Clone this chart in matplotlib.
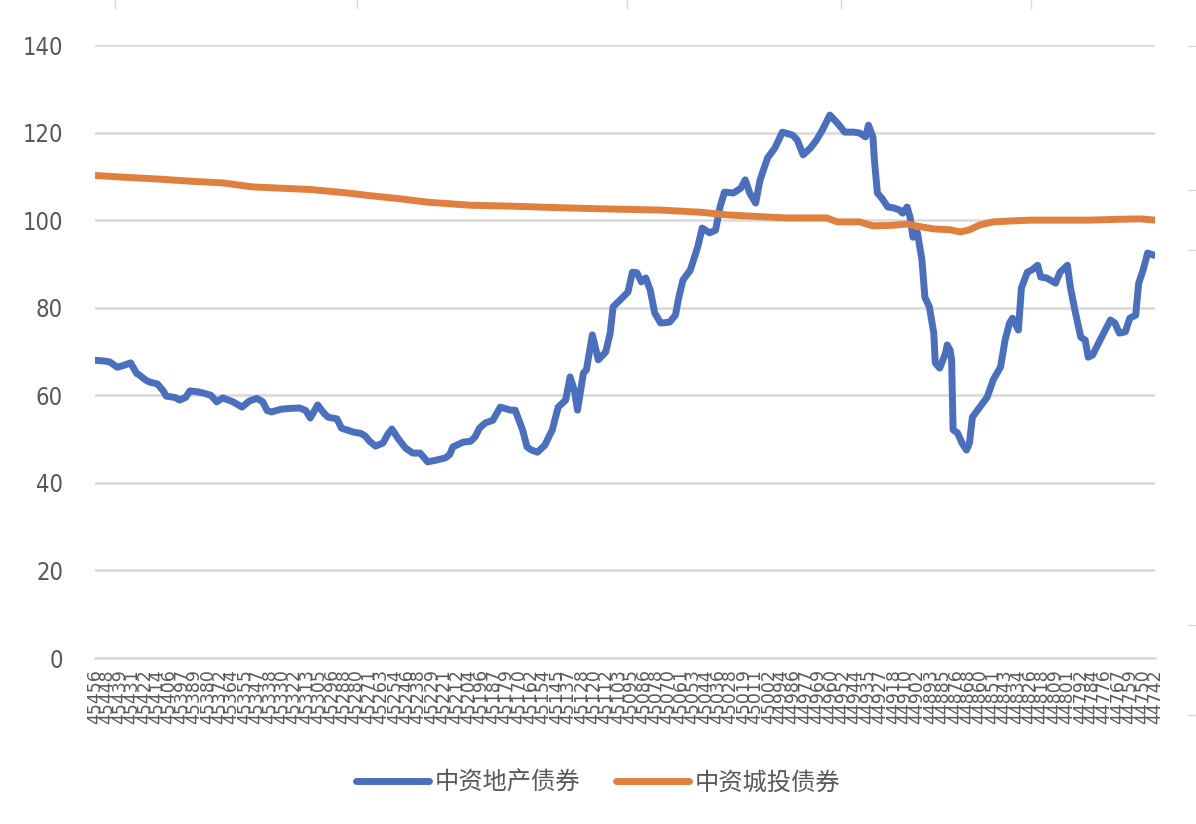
import matplotlib
matplotlib.use("Agg")
import matplotlib.pyplot as plt
from matplotlib.lines import Line2D

# ---------------- data ----------------
series_names = ["中资地产债券", "中资城投债券"]

# Excel date serials (x) and index values (y)
re_dates = [45456, 45449, 45446, 45441, 45437, 45432, 45428, 45426, 45422, 45419,
            45414, 45410, 45408, 45402, 45399, 45395, 45392, 45387, 45383, 45378,
            45374, 45370, 45363, 45357, 45352, 45347, 45343, 45340, 45337, 45331,
            45325, 45318, 45314, 45311, 45306, 45302, 45299, 45293, 45290, 45282,
            45277, 45274, 45271, 45267, 45262, 45259, 45256, 45252, 45247, 45242,
            45237, 45232, 45226, 45220, 45217, 45215, 45208, 45203, 45200, 45197,
            45193, 45188, 45183, 45180, 45176, 45173, 45168, 45165, 45162, 45158,
            45153, 45148, 45144, 45139, 45136, 45133, 45131, 45127, 45125, 45121,
            45117, 45112, 45109, 45107, 45101, 45097, 45094, 45091, 45088, 45085,
            45082, 45079, 45075, 45069, 45065, 45063, 45060, 45055, 45050, 45047,
            45042, 45038, 45035, 45032, 45026, 45021, 45018, 45015, 45011, 45008,
            45003, 44998, 44993, 44986, 44983, 44979, 44974, 44970, 44966, 44961,
            44956, 44951, 44945, 44941, 44937, 44935, 44932, 44931, 44929, 44926,
            44922, 44918, 44914, 44912, 44909, 44907, 44905, 44902, 44899, 44897,
            44894, 44891, 44890, 44887, 44883, 44882, 44880, 44879, 44878, 44875,
            44872, 44869, 44867, 44865, 44860, 44855, 44851, 44846, 44843, 44840,
            44838, 44834, 44832, 44828, 44825, 44821, 44819, 44815, 44809, 44806,
            44801, 44799, 44796, 44792, 44789, 44787, 44784, 44779, 44772, 44769,
            44766, 44762, 44759, 44755, 44753, 44750, 44747, 44743, 44742]
re_values = [68.0, 67.8, 67.6, 66.4, 66.8, 67.4, 65.0, 64.6, 63.5, 63.0,
             62.6, 61.0, 59.8, 59.5, 58.9, 59.5, 61.0, 60.8, 60.5, 60.0,
             58.5, 59.4, 58.5, 57.3, 58.7, 59.3, 58.5, 56.5, 56.2, 56.8,
             57.0, 57.1, 56.5, 54.8, 57.8, 56.0, 55.0, 54.6, 52.5, 51.6,
             51.3, 50.7, 49.5, 48.4, 49.1, 51.0, 52.3, 50.2, 48.0, 46.8,
             46.8, 44.8, 45.2, 45.7, 46.5, 48.2, 49.3, 49.5, 50.5, 52.5,
             53.7, 54.3, 57.3, 57.0, 56.6, 56.6, 52.1, 48.2, 47.5, 47.0,
             48.6, 52.1, 57.3, 58.9, 64.2, 61.0, 56.6, 65.1, 65.8, 73.8,
             68.1, 69.9, 74.2, 80.2, 82.2, 83.6, 88.1, 88.0, 85.9, 86.8,
             84.0, 78.8, 76.5, 76.7, 78.3, 82.0, 86.3, 88.6, 93.9, 98.2,
             97.1, 97.7, 103.0, 106.4, 106.2, 107.3, 109.2, 106.2, 103.9, 109.2,
             114.2, 116.5, 120.1, 119.4, 118.3, 114.9, 116.5, 118.3, 120.6, 124.0,
             122.2, 120.1, 120.1, 119.9, 119.0, 121.7, 119.0, 113.7, 106.2, 105.0,
             103.0, 102.8, 102.3, 101.6, 103.0, 100.7, 96.1, 97.1, 90.9, 82.4,
             80.2, 74.2, 67.4, 66.2, 69.7, 71.5, 70.3, 68.1, 52.1, 51.4,
             49.1, 47.5, 49.1, 55.0, 57.3, 59.6, 63.5, 66.5, 72.6, 76.5,
             77.6, 74.9, 84.5, 88.1, 88.6, 89.7, 87.0, 86.8, 85.6, 88.1,
             89.7, 84.7, 79.5, 73.3, 72.6, 68.7, 69.2, 72.6, 77.2, 76.5,
             74.2, 74.5, 77.6, 78.3, 85.6, 88.6, 92.5, 92.0, 92.0]

lgfv_dates = [45456, 45436, 45414, 45392, 45370, 45350, 45331, 45311, 45286, 45271,
              45251, 45232, 45203, 45176, 45149, 45116, 45075, 45048, 45030, 45008,
              44990, 44963, 44956, 44941, 44932, 44920, 44909, 44900, 44891, 44880,
              44873, 44867, 44860, 44851, 44840, 44826, 44806, 44786, 44766, 44752,
              44742]
lgfv_values = [110.2, 109.8, 109.4, 108.9, 108.5, 107.6, 107.3, 107.0, 106.2, 105.6,
               104.9, 104.1, 103.4, 103.2, 102.9, 102.6, 102.3, 101.8, 101.2, 100.8,
               100.5, 100.5, 99.6, 99.6, 98.7, 98.8, 99.1, 98.5, 98.0, 97.8,
               97.3, 97.8, 98.9, 99.6, 99.8, 100.0, 100.0, 100.0, 100.2, 100.3,
               100.0]

y_ticks = [0, 20, 40, 60, 80, 100, 120, 140]
n_xlabels = 86
x_tick_values = [round(45456 - i * (45456 - 44742) / (n_xlabels - 1)) for i in range(n_xlabels)]

# ---------------- style ----------------
BLUE = "#4A6FBE"
ORANGE = "#E0803E"
GRID = "#D9D9D9"
TXT = "#595959"
LW = 5.0

plt.rcParams['font.family'] = ['Noto Sans CJK SC', 'DejaVu Sans']

fig = plt.figure(figsize=(11.96, 8.24), dpi=100)
ax = fig.add_axes([95 / 1196, 1 - 658 / 824, (1155 - 95) / 1196, (658 - 45) / 824])

ax.plot(re_dates, re_values, color=BLUE, lw=LW, solid_joinstyle='round',
        solid_capstyle='round', label=series_names[0], zorder=3)
ax.plot(lgfv_dates, lgfv_values, color=ORANGE, lw=LW, solid_joinstyle='round',
        solid_capstyle='round', label=series_names[1], zorder=3)

ax.set_xlim(45456, 44742)
ax.set_ylim(0, 140)
ax.set_yticks(y_ticks)
ax.set_yticklabels([str(v) for v in y_ticks])
ax.yaxis.grid(True, color=GRID, lw=1.8)
ax.set_axisbelow(True)
for s in ['left', 'right', 'top']:
    ax.spines[s].set_visible(False)
ax.spines['bottom'].set_color(GRID)
ax.spines['bottom'].set_linewidth(1.8)

ax.tick_params(axis='y', length=0, pad=23, labelcolor=TXT)
for lab in ax.get_yticklabels():
    lab.set_fontfamily(['DejaVu Sans'])
    lab.set_fontstretch('condensed')
    lab.set_fontsize(17)

ax.set_xticks(x_tick_values)
ax.set_xticklabels([str(v) for v in x_tick_values], rotation=90,
                   fontsize=12.5, color=TXT, family=['DejaVu Sans'])
ax.tick_params(axis='x', length=0, pad=8)

leg = fig.legend(loc='center', bbox_to_anchor=(598 / 1196, 1 - 783 / 824),
                 ncol=2, frameon=False, fontsize=17.5, handlelength=3.0,
                 handletextpad=0.25, columnspacing=1.45, labelcolor=TXT)
for h in leg.get_lines():
    h.set_linewidth(LW)
    h.set_solid_capstyle('round')

# faint sheet-cell border marks visible around the chart edges
for xpx in [115, 357, 627, 841, 1031]:
    fig.add_artist(Line2D([xpx / 1196] * 2, [1, 1 - 8 / 824], color=GRID, lw=1))
for ypx in [46, 190, 250, 625, 715]:
    fig.add_artist(Line2D([1188 / 1196, 1], [1 - ypx / 824] * 2, color=GRID, lw=1))

fig.savefig("out.png", dpi=100)
